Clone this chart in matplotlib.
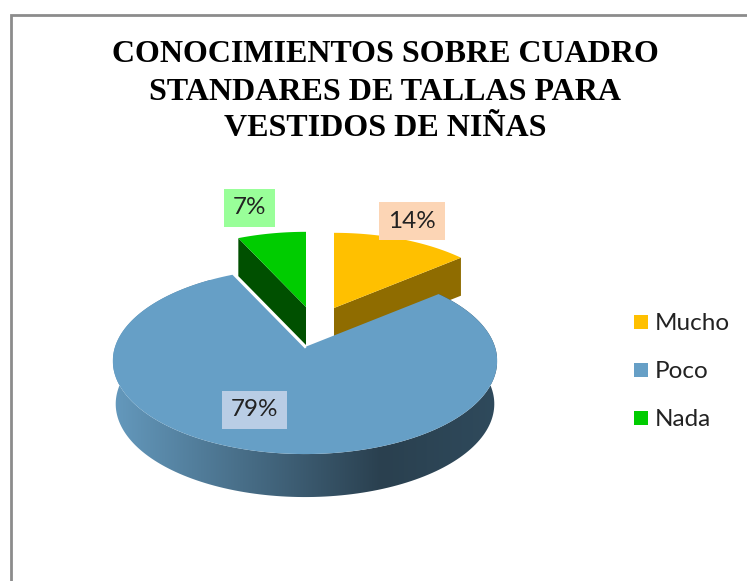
import numpy as np
import matplotlib
matplotlib.use("Agg")
import matplotlib.pyplot as plt
from matplotlib.patches import Polygon, Rectangle
from matplotlib.colors import LinearSegmentedColormap

categories = ["Mucho", "Poco", "Nada"]
values = [14, 79, 7]
labels = ["14%", "79%", "7%"]
title_lines = ["CONOCIMIENTOS SOBRE CUADRO", "STANDARES DE TALLAS PARA", "VESTIDOS DE NIÑAS"]

top_colors = ["#ffc000", "#669fc6", "#00cc00"]
side_colors = ["#8f6c00", "#2a404f", "#005000"]
label_colors = ["#fcd5b5", "#b9cde5", "#99ff99"]

# where each slice tip sits, px
apex = [(334, 308), (305, 347), (306, 307)]
size = [0.95, 1.0, 0.95]
depth = [38, 43, 38]
label_pos = [(412, 221), (254, 410), (249, 208)]

RX = 190
RY = 91
K = 0.15

fig = plt.figure(figsize=(7.47, 5.81), dpi=100)
ax = fig.add_axes([0, 0, 1, 1])


def project(theta, ap, sc):
    s = sc / (1 + K * np.cos(theta))
    return ap[0] + RX * np.sin(theta) * s, ap[1] - RY * np.cos(theta) * s


def wedge(start, end, ap, sc):
    t = np.linspace(start, end, 200)
    x, y = project(t, ap, sc)
    return x, y


# angles clockwise from the top
fracs = np.array(values) / sum(values)
edges = np.concatenate([[0], np.cumsum(fracs)]) * 2 * np.pi

# border
ax.plot([10.5, 10.5, 747], [581, 14.5, 14.5], color="#8c8c8c", lw=2, solid_joinstyle="miter")

# small back slices first
for i in [0, 2]:
    x, y = wedge(edges[i], edges[i + 1], apex[i], size[i])
    ap = apex[i]
    if i == 0:
        ex, ey = x[-1], y[-1]
    else:
        ex, ey = x[0], y[0]
    ax.add_patch(Polygon([(ap[0], ap[1]), (ex, ey), (ex, ey + depth[i]), (ap[0], ap[1] + depth[i])],
                         closed=True, fc=side_colors[i], ec="none", zorder=2))
    ax.add_patch(Polygon(np.column_stack([np.r_[ap[0], x], np.r_[ap[1], y]]),
                         closed=True, fc=top_colors[i], ec="none", zorder=3))

# big slice, side with gradient
x, y = wedge(edges[1], edges[2], apex[1], size[1])
x_low = apex[1][0] + (x - apex[1][0]) * 0.985
side = Polygon(np.column_stack([np.r_[x, x_low[::-1]], np.r_[y, y[::-1] + depth[1]]]),
               closed=True, fc="none", ec="none", zorder=4)
ax.add_patch(side)
cmap = LinearSegmentedColormap.from_list("side", [(0, "#6499bd"), (0.7, "#2a404f"), (1, "#2f4a5c")])
img = ax.imshow(np.linspace(0, 1, 256).reshape(1, -1), extent=(113, 497, 500, 280), cmap=cmap,
                aspect="auto", zorder=4, interpolation="bilinear")
img.set_clip_path(side)

ap = apex[1]
ax.add_patch(Polygon(np.column_stack([np.r_[ap[0], x], np.r_[ap[1], y]]),
                     closed=True, fc=top_colors[1], ec="none", zorder=5))
# white edge only on the side facing the green slice
ax.plot([x[-1], ap[0]], [y[-1], ap[1]], color="white", lw=1.6, zorder=6)

# data labels
for i in range(3):
    ax.text(label_pos[i][0], label_pos[i][1], labels[i], fontsize=17.5, family="Lato", color="#222222",
            ha="center", va="center", zorder=8,
            bbox=dict(boxstyle="square,pad=0.36", fc=label_colors[i], ec="none"))

# title
for i, line in enumerate(title_lines):
    ax.text(385, 55 + i * 37, line, fontsize=23, family="Liberation Serif", weight="bold",
            color="black", ha="center", va="center")

# legend
for i, name in enumerate(categories):
    yy = 322 + i * 48
    ax.add_patch(Rectangle((634, yy - 7), 14, 14, fc=top_colors[i], ec="none"))
    ax.text(655, yy + 2, name, fontsize=17.5, family="Lato", color="#222222", va="center", ha="left")

ax.set_xlim(0, 747)
ax.set_ylim(581, 0)
ax.axis("off")
fig.savefig("out.png", dpi=100)
